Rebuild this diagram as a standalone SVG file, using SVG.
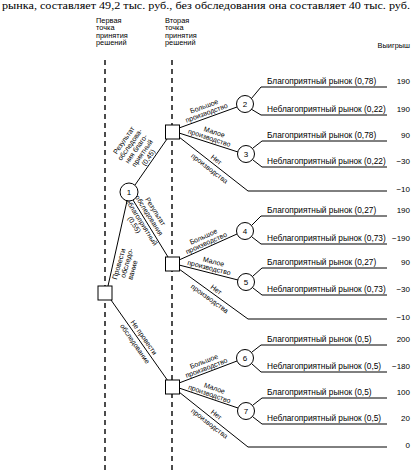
<svg xmlns="http://www.w3.org/2000/svg" width="416" height="471" viewBox="0 0 416 471">
<style>
.bg{fill:#fff}
.ln{stroke:#000;stroke-width:1;fill:none}
.dash{stroke:#000;stroke-width:1.4;stroke-dasharray:5,4;fill:none}
.dec{fill:#fff;stroke:#000;stroke-width:1}
.ch{fill:#fff;stroke:#000;stroke-width:1}
.t{font-family:"Liberation Sans",Arial,sans-serif;font-size:8.3px;fill:#000}
.h{font-family:"Liberation Sans",Arial,sans-serif;font-size:7.4px;fill:#000}
.lb{font-family:"Liberation Sans",Arial,sans-serif;font-size:7px;fill:#000;text-anchor:middle}
.n{font-family:"Liberation Sans",Arial,sans-serif;font-size:8px;fill:#000;text-anchor:middle}
.v{font-family:"Liberation Sans",Arial,sans-serif;font-size:8px;fill:#000;text-anchor:end}
.top{font-family:"Liberation Serif","Times New Roman",serif;font-size:10.5px;fill:#000}
</style>
<rect class="bg" x="0" y="0" width="416" height="471"/>
<text class="top" x="2" y="9" textLength="408" lengthAdjust="spacingAndGlyphs">рынка, составляет 49,2 тыс. руб., без обследования она составляет 40 тыс. руб.</text>
<g id="headers">
<text class="h" x="96" y="22.5">Первая</text>
<text class="h" x="96" y="30">точка</text>
<text class="h" x="96" y="37.5">принятия</text>
<text class="h" x="96" y="45">решений</text>
<text class="h" x="165" y="22.5">Вторая</text>
<text class="h" x="165" y="30">точка</text>
<text class="h" x="165" y="37.5">принятия</text>
<text class="h" x="165" y="45">решений</text>
<text class="h" x="410" y="47.5" text-anchor="end">Выигрыш</text>
</g>
<g id="stages">
<line class="dash" x1="105" y1="60" x2="105" y2="471"/>
<line class="dash" x1="172" y1="60" x2="172" y2="471"/>
</g>
<g id="connectors">
<line class="ln" x1="108" y1="286" x2="127" y2="201"/>
<line class="ln" x1="135" y1="185" x2="167" y2="139"/>
<line class="ln" x1="133" y1="200" x2="168" y2="257"/>
<line class="ln" x1="111" y1="300" x2="168" y2="381"/>
<line class="ln" x1="179" y1="128" x2="237" y2="107"/>
<line class="ln" x1="179" y1="133" x2="238" y2="152"/>
<polyline class="ln" points="179,137 248,191 387,191"/>
<polyline class="ln" points="251,99 261,87 387,87"/>
<polyline class="ln" points="251,109 261,115 387,115"/>
<polyline class="ln" points="253,148 262,141 387,141"/>
<polyline class="ln" points="253,160 262,167 387,167"/>
<line class="ln" x1="179" y1="260" x2="237" y2="234"/>
<line class="ln" x1="179" y1="265" x2="238" y2="280"/>
<polyline class="ln" points="179,269 248,319 387,319"/>
<polyline class="ln" points="252,225 261,216 387,216"/>
<polyline class="ln" points="252,237 261,244 387,244"/>
<polyline class="ln" points="253,276 262,268 387,268"/>
<polyline class="ln" points="253,288 262,295 387,295"/>
<line class="ln" x1="179" y1="383" x2="237" y2="361"/>
<line class="ln" x1="179" y1="388" x2="238" y2="408"/>
<polyline class="ln" points="179,392 248,447 387,447"/>
<polyline class="ln" points="252,352 261,345 387,345"/>
<polyline class="ln" points="252,364 261,372 387,372"/>
<polyline class="ln" points="253,405 262,398 387,398"/>
<polyline class="ln" points="253,417 262,424 387,424"/>
</g>
<g id="connector-labels">
<g transform="translate(110,278) rotate(-74)">
<text class="t" x="0" y="7" style="font-size:7.2px">Провести</text>
<text class="t" x="4" y="14.5" style="font-size:7.2px">обследо-</text>
<text class="t" x="4" y="22" style="font-size:7.2px">вание</text>
</g>
<g transform="translate(152,160) rotate(-55)">
<text class="lb" y="-32">Результат</text>
<text class="lb" y="-24.5">обследова-</text>
<text class="lb" y="-17">ния благо-</text>
<text class="lb" y="-9.5">приятный</text>
<text class="lb" y="-2">(0,45)</text>
</g>
<g transform="translate(145,218) rotate(58)">
<text class="lb" y="-10">Результат</text>
<text class="lb" y="-2.5">обследования</text>
<text class="lb" y="7.5">неблагоприятный</text>
<text class="lb" y="15">(0,55)</text>
</g>
<g transform="translate(139.5,340.5) rotate(55)">
<text class="lb" y="-3">Не провести</text>
<text class="lb" y="8">обследование</text>
</g>
<g transform="translate(208,117) rotate(-20)"><text class="lb" y="-9">Большое</text><text class="lb" y="-2">производство</text></g>
<g transform="translate(208,142) rotate(18)"><text class="lb" x="3" y="-9">Малое</text><text class="lb" y="-2">производство</text></g>
<g transform="translate(213,164) rotate(38)"><text class="lb" y="-3">Нет</text><text class="lb" y="8">производства</text></g>
<g transform="translate(208,247) rotate(-24)"><text class="lb" y="-9">Большое</text><text class="lb" y="-2">производство</text></g>
<g transform="translate(208,272) rotate(14)"><text class="lb" x="3" y="-9">Малое</text><text class="lb" y="-2">производство</text></g>
<g transform="translate(213,294) rotate(36)"><text class="lb" y="-3">Нет</text><text class="lb" y="8">производства</text></g>
<g transform="translate(208,372) rotate(-21)"><text class="lb" y="-9">Большое</text><text class="lb" y="-2">производство</text></g>
<g transform="translate(208,398) rotate(19)"><text class="lb" x="3" y="-9">Малое</text><text class="lb" y="-2">производство</text></g>
<g transform="translate(213,419) rotate(38)"><text class="lb" y="-3">Нет</text><text class="lb" y="8">производства</text></g>
</g>
<g id="d0"><rect class="dec" x="98" y="286" width="14" height="14"/></g>
<g id="c1"><circle class="ch" cx="129" cy="192" r="9"/><text class="n" x="129" y="195">1</text></g>
<g id="d1"><rect class="dec" x="165.5" y="125" width="14" height="14"/></g>
<g id="d2"><rect class="dec" x="165.5" y="257" width="14" height="14"/></g>
<g id="d3"><rect class="dec" x="165.5" y="380" width="14" height="14"/></g>
<g id="c2"><circle class="ch" cx="245" cy="104" r="8.5"/><text class="n" x="245" y="107">2</text></g>
<g id="c3"><circle class="ch" cx="246" cy="154" r="8.5"/><text class="n" x="246" y="157">3</text></g>
<g id="c4"><circle class="ch" cx="245" cy="231" r="8.5"/><text class="n" x="245" y="234">4</text></g>
<g id="c5"><circle class="ch" cx="246" cy="282" r="8.5"/><text class="n" x="246" y="285">5</text></g>
<g id="c6"><circle class="ch" cx="245" cy="358" r="8.5"/><text class="n" x="245" y="361">6</text></g>
<g id="c7"><circle class="ch" cx="246" cy="411" r="8.5"/><text class="n" x="246" y="414">7</text></g>
<g id="outcomes">
<text class="t" x="267" y="84">Благоприятный рынок (0,78)</text>
<text class="t" x="267" y="112">Неблагоприятный рынок (0,22)</text>
<text class="t" x="267" y="138">Благоприятный рынок (0,78)</text>
<text class="t" x="267" y="164">Неблагоприятный рынок (0,22)</text>
<text class="t" x="267" y="213">Благоприятный рынок (0,27)</text>
<text class="t" x="267" y="241">Неблагоприятный рынок (0,73)</text>
<text class="t" x="267" y="265">Благоприятный рынок (0,27)</text>
<text class="t" x="267" y="292">Неблагоприятный рынок (0,73)</text>
<text class="t" x="267" y="342">Благоприятный рынок (0,5)</text>
<text class="t" x="267" y="369">Неблагоприятный рынок (0,5)</text>
<text class="t" x="267" y="395">Благоприятный рынок (0,5)</text>
<text class="t" x="267" y="421">Неблагоприятный рынок (0,5)</text>
</g>
<g id="payoffs">
<text class="v" x="410" y="84">190</text>
<text class="v" x="410" y="112">190</text>
<text class="v" x="410" y="138">90</text>
<text class="v" x="410" y="164">−30</text>
<text class="v" x="410" y="192">−10</text>
<text class="v" x="410" y="213">190</text>
<text class="v" x="410" y="241">−190</text>
<text class="v" x="410" y="265">90</text>
<text class="v" x="410" y="292">−30</text>
<text class="v" x="410" y="320">−10</text>
<text class="v" x="410" y="342">200</text>
<text class="v" x="410" y="369">−180</text>
<text class="v" x="410" y="395">100</text>
<text class="v" x="410" y="421">20</text>
<text class="v" x="410" y="448">0</text>
</g>
</svg>
